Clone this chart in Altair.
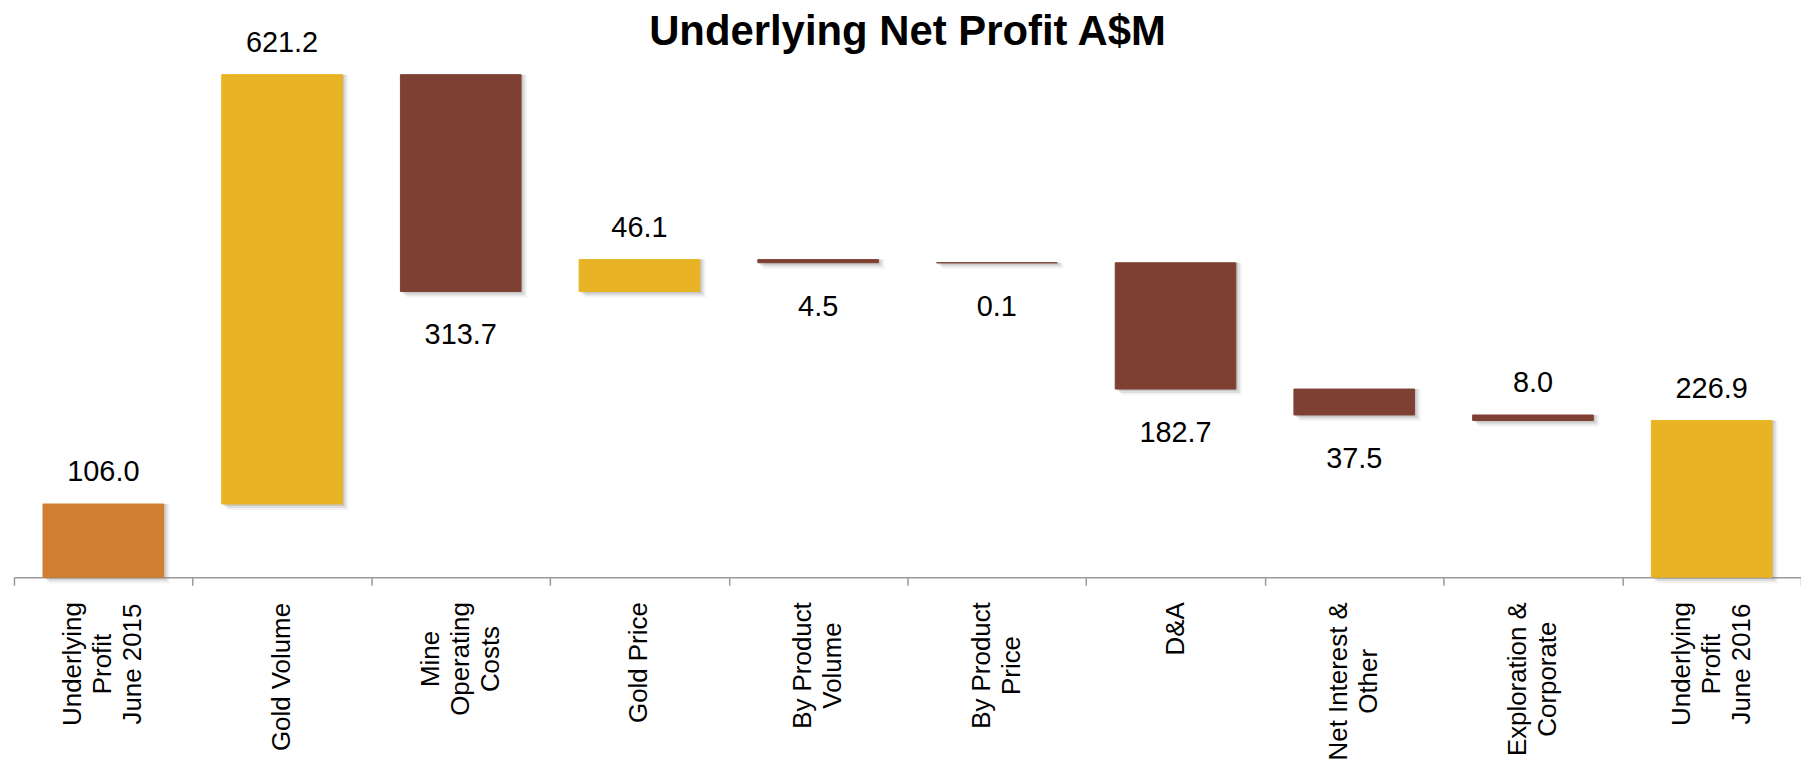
import altair as alt
import pandas as pd

# ---- data ----
title_text = "Underlying Net Profit A$M"
categories = [
    "Underlying\nProfit\nJune 2015",
    "Gold Volume",
    "Mine\nOperating\nCosts",
    "Gold Price",
    "By Product\nVolume",
    "By Product\nPrice",
    "D&A",
    "Net Interest &\nOther",
    "Exploration &\nCorporate",
    "Underlying\nProfit\nJune 2016",
]
values = [106.0, 621.2, -313.7, 46.1, -4.5, -0.1, -182.7, -37.5, -8.0, 226.9]
kinds = ["start", "up", "down", "up", "down", "down", "down", "down", "down", "end"]
label_above = [True, True, False, True, False, False, False, False, True, True]

# ---- layout constants ----
FONT = "Liberation Sans"
W, H = 1794, 562
LABEL_FS, LABEL_LH = 26, 30
VALUE_FS = 29

# Arial / Liberation Sans advance widths (1/1000 em) to centre rotated label blocks
ADV = {' ': 278, '&': 667, 'A': 667, 'B': 667, 'C': 722, 'D': 722, 'E': 667, 'G': 778,
       'I': 278, 'J': 500, 'M': 833, 'N': 722, 'O': 778, 'P': 667, 'U': 722, 'V': 667,
       'a': 556, 'b': 556, 'c': 500, 'd': 556, 'e': 556, 'f': 278, 'g': 556, 'h': 556,
       'i': 222, 'l': 222, 'm': 833, 'n': 556, 'o': 556, 'p': 556, 'r': 333, 's': 500,
       't': 278, 'u': 556, 'x': 500, 'y': 500}


def text_width(s, fs):
    return sum(ADV.get(c, 556) for c in s) / 1000.0 * fs


# ---- waterfall table ----
rows = []
running = 0.0
for cat, v, k, above in zip(categories, values, kinds, label_above):
    if k in ("start", "end"):
        lo, hi = 0.0, v
        running = v
    else:
        lo, hi = sorted([running, running + v])
        running += v
    rows.append(dict(cat=cat, lo=lo, hi=hi, kind=k, label=f"{abs(v):.1f}",
                     side="above" if above else "below",
                     anchor=hi if above else lo))
df = pd.DataFrame(rows)

lab_rows = []
for cat in categories:
    lines = cat.split("\n")
    longest = max(text_width(l, LABEL_FS) for l in lines)
    lab_rows.append(dict(cat=cat, n=len(lines), ymid=H + 25 + longest / 2.0))
lab_df = pd.DataFrame(lab_rows)

# ---- bars and value labels ----
y_scale = alt.Scale(domain=[0, 810], nice=False, zero=True)
x_bar = alt.X("cat:N", sort=categories,
              scale=alt.Scale(paddingInner=0.325, paddingOuter=0.1625), axis=None)

base = alt.Chart(df)
layers = []
for off, op in [(2, 0.22), (4, 0.16), (6, 0.09)]:
    layers.append(
        base.mark_bar(color="#777777", opacity=op, xOffset=off, yOffset=off).encode(
            x=x_bar, y=alt.Y("lo:Q", scale=y_scale, axis=None), y2="hi:Q"))

color_scale = alt.Scale(domain=["start", "up", "down", "end"],
                        range=["#D07F30", "#E8B425", "#7E4033", "#E8B425"])
layers.append(base.mark_bar(strokeWidth=1).encode(
    x=x_bar, y=alt.Y("lo:Q", scale=y_scale, axis=None), y2="hi:Q",
    color=alt.Color("kind:N", legend=None, scale=color_scale),
    stroke=alt.Stroke("kind:N", legend=None, scale=color_scale)))

layers.append(base.transform_filter(alt.datum.side == "above").mark_text(
    font=FONT, fontSize=VALUE_FS, color="black", baseline="alphabetic", dy=-23
).encode(x=x_bar, y=alt.Y("anchor:Q", scale=y_scale, axis=None), text="label:N"))

layers.append(base.transform_filter(alt.datum.side == "below").mark_text(
    font=FONT, fontSize=VALUE_FS, color="black", baseline="alphabetic", dy=53
).encode(x=x_bar, y=alt.Y("anchor:Q", scale=y_scale, axis=None), text="label:N"))

bars_layer = alt.layer(*layers)

# ---- category axis (ticks at band boundaries) and rotated labels ----
x_axis = alt.X(
    "cat:N", sort=categories,
    scale=alt.Scale(type="band", paddingInner=0, paddingOuter=0),
    axis=alt.Axis(title=None, labels=False, tickBand="extent", tickSize=8,
                  domainColor="#9a9a9a", tickColor="#9a9a9a", domainWidth=1.5,
                  tickWidth=1.5, grid=False),
)
lab_layers = []
for n in (1, 2, 3):
    lab_layers.append(
        alt.Chart(lab_df).transform_filter(alt.datum.n == n).mark_text(
            font=FONT, fontSize=LABEL_FS, color="black", angle=270, align="center",
            baseline="middle", lineBreak="\n", lineHeight=LABEL_LH,
            dy=-(n - 1) * LABEL_LH / 2.0,
        ).encode(x=x_axis, y=alt.Y("ymid:Q", scale=None, axis=None), text="cat:N"))
axis_layer = alt.layer(*lab_layers)

# ---- title ----
title_layer = alt.Chart(pd.DataFrame({"t": [title_text]})).mark_text(
    font=FONT, fontSize=42, fontWeight="bold", color="black",
    align="center", baseline="alphabetic",
).encode(x=alt.value(W / 2.0), y=alt.value(28), text="t:N")

chart = alt.layer(bars_layer, axis_layer, title_layer).resolve_scale(
    x="independent", y="independent"
).properties(
    width=W, height=H,
    autosize=alt.AutoSizeParams(type="none"),
    padding={"left": 6, "top": 8, "right": 0, "bottom": 187},
    background="white",
).configure_view(stroke=None)

chart.save("out.html", embed_options={"renderer": "svg", "actions": False})
